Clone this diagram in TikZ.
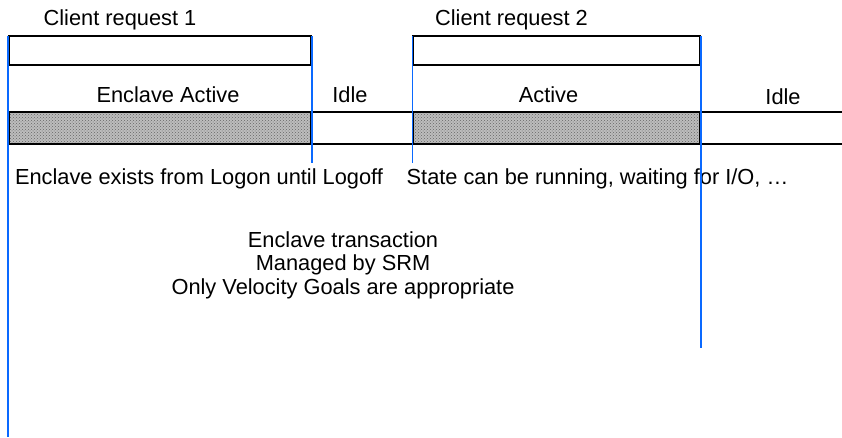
\documentclass[tikz,border=0pt]{standalone}
\usepackage{fontspec}
\setmainfont{Liberation Sans}
\usepackage{tikz}
\usetikzlibrary{positioning, patterns}
\definecolor{edgeblue}{RGB}{10,105,255}
\tikzstyle{request} = [rectangle, minimum height=29pt, inner sep=0pt, outer sep=0pt, draw=black, line width=2pt]
\tikzstyle{active} = [rectangle, minimum height=32pt, inner sep=0pt, outer sep=0pt, draw=black, line width=2pt, preaction={fill=black!26}, pattern=crosshatch dots, pattern color=black!60]
\tikzstyle{idle} = [rectangle, minimum height=32pt, inner sep=0pt, outer sep=0pt, draw=black, line width=2pt, fill=white]
\tikzstyle{txt} = [inner sep=0pt, outer sep=0pt, font=\fontsize{21.8}{23.5}\selectfont]
\tikzstyle{boundary} = [draw=edgeblue, line width=1.4pt]

\begin{document}
\begin{tikzpicture}[x=1pt, y=1pt]
\useasboundingbox (0,0) rectangle (842,-437);
% state bar
\node (act1) [active, minimum width=302pt] at (160,-128) {};
\node (idle1) [idle, minimum width=102pt, right=0pt of act1] {};
\node (act2) [active, minimum width=287pt, right=0pt of idle1] {};
\node (idle2) [idle, minimum width=160pt, right=0pt of act2] {};
% client requests
\node (req1) [request, minimum width=302pt, above=47pt of act1] {};
\node (req2) [request, minimum width=287pt, above=47pt of act2] {};
\node (req1txt) [txt, above=6pt of req1, xshift=-40pt] {Client request 1};
\node (req2txt) [txt, above=6pt of req2, xshift=-45pt] {Client request 2};
% state labels
\node (act1txt) [txt, above=9pt of act1, xshift=8pt] {Enclave Active};
\node (idle1txt) [txt, above=9pt of idle1, xshift=-12pt] {Idle};
\node (act2txt) [txt, above=9pt of act2, xshift=-8pt] {Active};
\node (idle2txt) [txt, above=7pt of idle2, xshift=3pt] {Idle};
% notes
\node (logon) [txt, below=25pt of act1, xshift=39pt] {Enclave exists from Logon until Logoff};
\node (state) [txt, below=25pt of act2, xshift=41pt] {State can be running, waiting for I/O, …};
\node (trans) [txt, align=center, below=42pt of logon, xshift=144pt] {Enclave transaction\\Managed by SRM\\Only Velocity Goals are appropriate};
% boundaries
\coordinate (end1) at (8,-437);
\coordinate (end2) at (312,-163);
\coordinate (end3) at (412.5,-163);
\coordinate (end4) at (701,-348);
\draw [boundary] ([xshift=-1pt]req1.north west) -- (end1);
\draw [boundary] ([xshift=1pt]req1.north east) -- (end2);
\draw [boundary] ([xshift=-0.5pt]req2.north west) -- (end3);
\draw [boundary] ([xshift=1pt]req2.north east) -- (end4);
\end{tikzpicture}
\end{document}
